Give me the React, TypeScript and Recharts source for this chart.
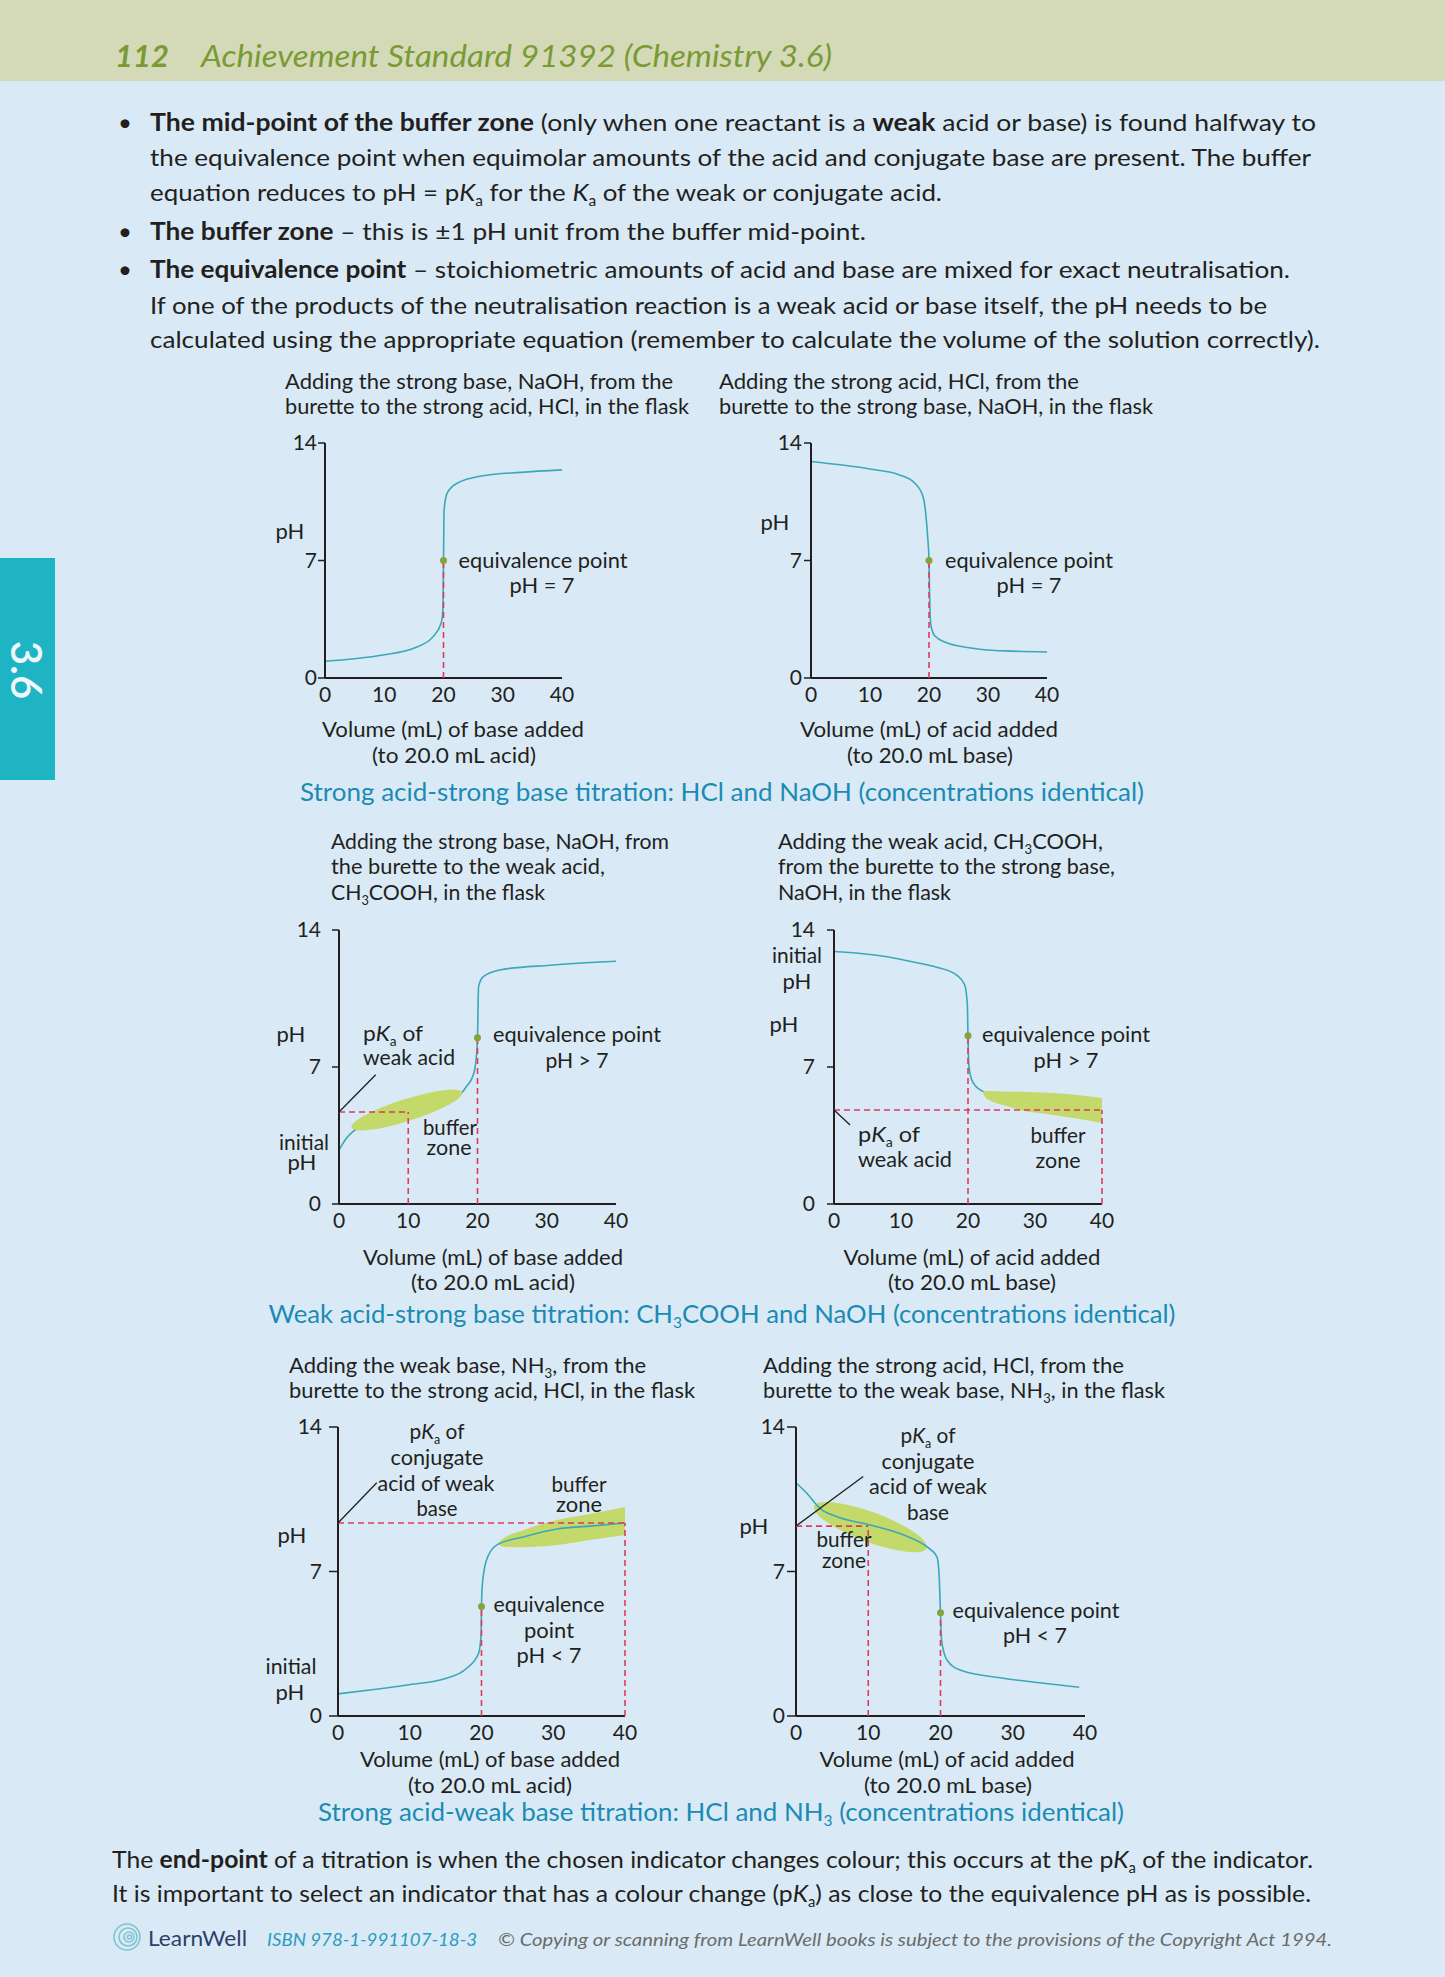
import React from 'react';
import { ComposedChart, Line, Area, XAxis, YAxis, ReferenceLine, ReferenceDot } from 'recharts';

const FONT = 'Lato, "Open Sans", sans-serif';
const INK = '#231f20';
const CURVE = '#3aa8b8';
const DASH = '#e03a5e';
const BUFFER = '#c3da6a';
const EQ_DOT = '#86a23a';
const CAPTION = '#1b8bb4';
const PAGE_BG = '#d9eaf6';
const HEADER_BG = '#d4dab8';
const HEADER_INK = '#7a9a34';
const TAB_BG = '#1fb4c4';

const volumeTicks = [0, 10, 20, 30, 40];
const phTicks = [0, 7, 14];

// 1. strong base added to strong acid
const sbIntoSaVolume = [0, 5, 9.8, 15.5, 18.2, 19.6, 19.9, 20, 20.1, 20.6, 22.3, 26.7, 33, 40];
const sbIntoSaPH = [1.0, 1.15, 1.37, 1.85, 2.45, 3.26, 4.1, 7.0, 10.0, 11.0, 11.6, 12.05, 12.25, 12.4];

// 2. strong acid added to strong base
const saIntoSbVolume = [0, 5, 10, 15, 17.6, 19, 19.5, 19.8, 20, 20.1, 20.3, 21, 23, 26, 29, 34, 40];
const saIntoSbPH = [12.9, 12.7, 12.45, 12.1, 11.6, 10.8, 9.6, 8.3, 7.0, 5.0, 3.2, 2.5, 2.1, 1.85, 1.7, 1.6, 1.55];

// 3. strong base added to weak acid
const sbIntoWaVolume = [0, 1.1, 2, 4, 7, 10, 13, 16, 17.7, 18.4, 19.4, 19.8, 20, 20.15, 20.8, 23.2, 30.5, 40];
const sbIntoWaPH = [2.75, 3.37, 3.7, 4.1, 4.45, 4.7, 4.95, 5.3, 5.67, 6.0, 6.6, 7.4, 8.5, 11.1, 11.6, 11.96, 12.2, 12.4];

// 4. weak acid added to strong base
const waIntoSbVolume = [0, 4, 7.9, 12, 15.3, 18.3, 19.5, 19.9, 20, 20.1, 20.5, 21.2, 22.3, 25, 30, 35, 40];
const waIntoSbPH = [12.9, 12.8, 12.63, 12.35, 12.1, 11.7, 11.2, 10.2, 8.6, 7.2, 6.4, 6.0, 5.74, 5.35, 5.05, 4.9, 4.8];
const waIntoSbBufferVolume = [22.2, 22.6, 23.5, 25.2, 27.8, 32.7, 36, 40];
const waIntoSbBufferLow = [5.72, 5.45, 5.25, 5.06, 4.8, 4.55, 4.38, 4.14];
const waIntoSbBufferHigh = [5.72, 5.78, 5.78, 5.75, 5.73, 5.67, 5.58, 5.42];

// 5. weak base added to strong acid
const wbIntoSaVolume = [0, 5, 9.6, 15.1, 17.9, 19.6, 19.95, 20, 20.1, 20.7, 22.1, 25.8, 30.5, 35.1, 40];
const wbIntoSaPH = [1.07, 1.28, 1.5, 1.83, 2.3, 3.04, 4.0, 5.3, 6.3, 7.56, 8.28, 8.67, 9.06, 9.2, 9.35];
const wbIntoSaBufferVolume = [22.2, 22.8, 23.5, 25.8, 30.5, 35.1, 40];
const wbIntoSaBufferLow = [8.33, 8.22, 8.19, 8.17, 8.28, 8.53, 8.77];
const wbIntoSaBufferHigh = [8.33, 8.55, 8.7, 9.0, 9.5, 9.79, 10.12];

// 6. strong acid added to weak base
const saIntoWbVolume = [0, 1.5, 3.3, 5.6, 10.3, 14.9, 18.1, 19.5, 19.8, 20, 20.15, 20.9, 22.7, 28.7, 34, 39.2];
const saIntoWbPH = [11.3, 10.79, 10.06, 9.66, 9.25, 8.77, 8.2, 7.72, 6.9, 5.0, 3.68, 2.71, 2.23, 1.83, 1.6, 1.39];

const curveOf = (xs: number[], ys: number[]) => xs.map((x, i) => ({ x, ph: ys[i] }));
const bandOf = (xs: number[], lo: number[], hi: number[]) => xs.map((x, i) => ({ x, band: [lo[i], hi[i]] }));

type Pt = [number, number];
interface Spec {
  id: string;
  plotLeft: number; plotTop: number; plotW: number; plotH: number;
  tickLen: number; yTickMargin: number;
  curve: { x: number; ph: number }[];
  band?: { x: number; band: number[] }[];
  bandOver?: boolean;
  ellipse?: { x: number; y: number; rx: number; ry: number; angle: number; under?: boolean };
  eq: Pt;
  dashed: [Pt, Pt][];
  leaders: [Pt, Pt][];
}

const specs: Spec[] = [
  {
    id: 'c1', plotLeft: 325, plotTop: 443, plotW: 237, plotH: 235, tickLen: 7, yTickMargin: 1,
    curve: curveOf(sbIntoSaVolume, sbIntoSaPH), eq: [20, 7],
    dashed: [[[20, 0], [20, 7]]], leaders: [],
  },
  {
    id: 'c2', plotLeft: 811, plotTop: 443, plotW: 236, plotH: 235, tickLen: 7, yTickMargin: 2,
    curve: curveOf(saIntoSbVolume, saIntoSbPH), eq: [20, 7],
    dashed: [[[20, 0], [20, 7]]], leaders: [],
  },
  {
    id: 'c3', plotLeft: 339, plotTop: 930, plotW: 277, plotH: 274, tickLen: 7, yTickMargin: 11,
    curve: curveOf(sbIntoWaVolume, sbIntoWaPH), eq: [20, 8.5],
    ellipse: { x: 9.8, y: 4.8, rx: 58, ry: 11, angle: -17.6 },
    dashed: [[[0, 4.7], [10, 4.7]], [[10, 0], [10, 4.7]], [[20, 0], [20, 8.5]]],
    leaders: [[[0, 4.7], [5.3, 6.6]]],
  },
  {
    id: 'c4', plotLeft: 834, plotTop: 930, plotW: 268, plotH: 274, tickLen: 7, yTickMargin: 12,
    curve: curveOf(waIntoSbVolume, waIntoSbPH), eq: [20, 8.6],
    band: bandOf(waIntoSbBufferVolume, waIntoSbBufferLow, waIntoSbBufferHigh), bandOver: true,
    dashed: [[[0, 4.8], [40, 4.8]], [[20, 0], [20, 8.6]], [[40, 0], [40, 4.8]]],
    leaders: [[[0, 4.8], [2.4, 4.04]]],
  },
  {
    id: 'c5', plotLeft: 338, plotTop: 1427, plotW: 287, plotH: 289, tickLen: 9, yTickMargin: 7,
    curve: curveOf(wbIntoSaVolume, wbIntoSaPH), eq: [20, 5.3],
    band: bandOf(wbIntoSaBufferVolume, wbIntoSaBufferLow, wbIntoSaBufferHigh),
    dashed: [[[0, 9.35], [40, 9.35]], [[20, 0], [20, 5.3]], [[40, 0], [40, 9.35]]],
    leaders: [[[0, 9.35], [5.4, 11.3]]],
  },
  {
    id: 'c6', plotLeft: 796, plotTop: 1427, plotW: 289, plotH: 289, tickLen: 9, yTickMargin: 2,
    curve: curveOf(saIntoWbVolume, saIntoWbPH), eq: [20, 5.0],
    ellipse: { x: 10.3, y: 9.15, rx: 60, ry: 15, angle: 20.4, under: true },
    dashed: [[[0, 9.2], [10, 9.2]], [[10, 0], [10, 9.2]], [[20, 0], [20, 5.0]]],
    leaders: [[[0, 9.2], [9.3, 11.6]]],
  },
];

function Titration({ s }: { s: Spec }) {
  const ML = 60, MT = 24, MR = 26, XH = 42;
  const w = ML + s.plotW + MR;
  const h = MT + s.plotH + XH;
  const ell = s.ellipse;
  const ellipseDot = ell ? (
    <ReferenceDot
      x={ell.x} y={ell.y} r={ell.rx}
      zIndex={ell.under ? 150 : 650}
      shape={(p: any) => (
        <ellipse cx={p.cx} cy={p.cy} rx={ell.rx} ry={ell.ry} fill={BUFFER}
          transform={`rotate(${ell.angle} ${p.cx} ${p.cy})`} />
      )}
    />
  ) : null;
  return (
    <div style={{ position: 'absolute', left: s.plotLeft - ML, top: s.plotTop - MT, width: w, height: h, zIndex: 1 }}>
      <ComposedChart width={w} height={h} margin={{ top: MT, right: MR, bottom: 0, left: 0 }}>
        <XAxis type="number" dataKey="x" domain={[0, 40]} ticks={volumeTicks} interval={0}
          tickLine={false} tickSize={0} tickMargin={9} height={XH}
          axisLine={{ stroke: INK, strokeWidth: 2 }}
          tick={{ fill: INK, fontSize: 21, fontFamily: FONT }} />
        <YAxis type="number" domain={[0, 14]} ticks={phTicks} interval={0} width={ML}
          tickSize={s.tickLen} tickMargin={s.yTickMargin}
          tickLine={{ stroke: INK, strokeWidth: 1.5 }}
          axisLine={{ stroke: INK, strokeWidth: 2 }}
          tick={{ fill: INK, fontSize: 21, fontFamily: FONT }} />
        {ell && ell.under ? ellipseDot : null}
        {s.band ? (
          <Area data={s.band} dataKey="band" type="monotone" stroke="none" fill={BUFFER} fillOpacity={1}
            dot={false} activeDot={false} isAnimationActive={false} zIndex={s.bandOver ? 450 : 100} />
        ) : null}
        <Line data={s.curve} dataKey="ph" type="monotone" stroke={CURVE} strokeWidth={1.6}
          dot={false} activeDot={false} isAnimationActive={false} zIndex={400} />
        {ell && !ell.under ? ellipseDot : null}
        {s.dashed.map((seg, i) => (
          <ReferenceLine key={'d' + i} segment={[{ x: seg[0][0], y: seg[0][1] }, { x: seg[1][0], y: seg[1][1] }]}
            stroke={DASH} strokeWidth={1.6} strokeDasharray="6 4" zIndex={700} />
        ))}
        {s.leaders.map((seg, i) => (
          <ReferenceLine key={'l' + i} segment={[{ x: seg[0][0], y: seg[0][1] }, { x: seg[1][0], y: seg[1][1] }]}
            stroke={INK} strokeWidth={1.3} zIndex={700} />
        ))}
        <ReferenceDot x={s.eq[0]} y={s.eq[1]} r={3.5} fill={EQ_DOT} stroke="none" zIndex={800} />
      </ComposedChart>
    </div>
  );
}

type TP = {
  x: number; y: number; w?: number; size?: number; a?: 'start' | 'middle' | 'end';
  fill?: string; italic?: boolean; bold?: boolean; children: React.ReactNode;
};
const T = ({ x, y, w, size = 22, a = 'start', fill = INK, italic = false, bold = false, children }: TP) => (
  <text x={x} y={y} fontSize={size} textAnchor={a} fill={fill} fontFamily={FONT}
    fontStyle={italic ? 'italic' : 'normal'} fontWeight={bold ? 700 : 400}
    textLength={w} lengthAdjust={w ? 'spacingAndGlyphs' : undefined}>{children}</text>
);
const B = ({ children }: { children: React.ReactNode }) => <tspan fontWeight={700}>{children}</tspan>;
const K = () => <tspan fontStyle="italic">K</tspan>;
const Sub = ({ c, d = 5 }: { c: string; d?: number }) => <tspan fontSize="60%" dy={d}>{c}</tspan>;
const Up = ({ children, d = 5 }: { children: React.ReactNode; d?: number }) => <tspan dy={-d}>{children}</tspan>;

function PageText() {
  return (
    <svg width={1445} height={1977} style={{ position: 'absolute', left: 0, top: 0, zIndex: 2, pointerEvents: 'none' }}>
      {/* header */}
      <T x={115} y={67} w={54} size={31} fill={HEADER_INK} italic bold>112</T>
      <T x={201} y={67} w={631} size={31} fill={HEADER_INK} italic>Achievement Standard 91392 (Chemistry 3.6)</T>
      {/* side tab */}
      <text transform="translate(27,670) rotate(90)" textAnchor="middle" dominantBaseline="central"
        fontSize={42} fill="#eef7fb" fontFamily={FONT} fontWeight={600}>3.6</text>

      {/* bullets */}
      <T x={118} y={131} size={24}>•</T>
      <T x={118} y={240} size={24}>•</T>
      <T x={118} y={278} size={24}>•</T>
      <T x={150} y={131} w={1166} size={24}><B>{'The mid-point of the buffer zone'}</B>{' (only when one reactant is a '}<B>weak</B>{' acid or base) is found halfway to'}</T>
      <T x={150} y={166} w={1161} size={24}>the equivalence point when equimolar amounts of the acid and conjugate base are present. The buffer</T>
      <T x={150} y={201} w={792} size={24}>{'equation reduces to pH = p'}<K /><Sub c="a" /><Up>{' for the '}</Up><K /><Sub c="a" /><Up>{' of the weak or conjugate acid.'}</Up></T>
      <T x={150} y={240} w={716} size={24}><B>{'The buffer zone'}</B>{' – this is ±1 pH unit from the buffer mid-point.'}</T>
      <T x={150} y={278} w={1140} size={24}><B>{'The equivalence point'}</B>{' – stoichiometric amounts of acid and base are mixed for exact neutralisation.'}</T>
      <T x={150} y={314} w={1117} size={24}>If one of the products of the neutralisation reaction is a weak acid or base itself, the pH needs to be</T>
      <T x={150} y={348} w={1170} size={24}>calculated using the appropriate equation (remember to calculate the volume of the solution correctly).</T>

      {/* chart 1 */}
      <T x={285} y={389} w={388}>Adding the strong base, NaOH, from the</T>
      <T x={285} y={414} w={404}>burette to the strong acid, HCl, in the flask</T>
      <T x={290} y={539} a="middle">pH</T>
      <T x={543} y={568} w={169} a="middle">equivalence point</T>
      <T x={542} y={593} w={65} a="middle">pH = 7</T>
      <T x={453} y={737} w={262} a="middle">Volume (mL) of base added</T>
      <T x={454} y={763} w={164} a="middle">(to 20.0 mL acid)</T>

      {/* chart 2 */}
      <T x={719} y={389} w={360}>Adding the strong acid, HCl, from the</T>
      <T x={719} y={414} w={434}>burette to the strong base, NaOH, in the flask</T>
      <T x={775} y={530} a="middle">pH</T>
      <T x={1029} y={568} w={168} a="middle">equivalence point</T>
      <T x={1029} y={593} w={65} a="middle">pH = 7</T>
      <T x={929} y={737} w={258} a="middle">Volume (mL) of acid added</T>
      <T x={930} y={763} w={166} a="middle">(to 20.0 mL base)</T>

      <T x={722} y={801} w={844} size={25} a="middle" fill={CAPTION}>Strong acid-strong base titration: HCl and NaOH (concentrations identical)</T>

      {/* chart 3 */}
      <T x={331} y={849} w={338}>Adding the strong base, NaOH, from</T>
      <T x={331} y={874} w={274}>the burette to the weak acid,</T>
      <T x={331} y={900} w={214}>{'CH'}<Sub c="3" /><Up>{'COOH, in the flask'}</Up></T>
      <T x={291} y={1042} a="middle">pH</T>
      <T x={363} y={1041} w={60}>{'p'}<K /><Sub c="a" /><Up>{'  of'}</Up></T>
      <T x={363} y={1065} w={92}>weak acid</T>
      <T x={577} y={1042} w={168} a="middle">equivalence point</T>
      <T x={577} y={1068} w={63} a="middle">{'pH > 7'}</T>
      <T x={450} y={1135} w={54} a="middle">buffer</T>
      <T x={449} y={1155} w={45} a="middle">zone</T>
      <T x={304} y={1150} w={50} a="middle">initial</T>
      <T x={302} y={1170} a="middle">pH</T>
      <T x={493} y={1265} w={260} a="middle">Volume (mL) of base added</T>
      <T x={493} y={1290} w={164} a="middle">(to 20.0 mL acid)</T>

      {/* chart 4 */}
      <T x={778} y={849} w={325}>{'Adding the weak acid, CH'}<Sub c="3" /><Up>{'COOH,'}</Up></T>
      <T x={778} y={874} w={337}>from the burette to the strong base,</T>
      <T x={778} y={900} w={173}>NaOH, in the flask</T>
      <T x={797} y={963} w={50} a="middle">initial</T>
      <T x={797} y={989} a="middle">pH</T>
      <T x={784} y={1032} a="middle">pH</T>
      <T x={1066} y={1042} w={168} a="middle">equivalence point</T>
      <T x={1066} y={1068} w={65} a="middle">{'pH > 7'}</T>
      <T x={858} y={1142} w={62}>{'p'}<K /><Sub c="a" /><Up>{'  of'}</Up></T>
      <T x={858} y={1167} w={94}>weak acid</T>
      <T x={1058} y={1143} w={55} a="middle">buffer</T>
      <T x={1058} y={1168} w={45} a="middle">zone</T>
      <T x={972} y={1265} w={257} a="middle">Volume (mL) of acid added</T>
      <T x={972} y={1290} w={168} a="middle">(to 20.0 mL base)</T>

      <T x={722} y={1323} w={907} size={25} a="middle" fill={CAPTION}>{'Weak acid-strong base titration: CH'}<Sub c="3" /><Up>{'COOH and NaOH (concentrations identical)'}</Up></T>

      {/* chart 5 */}
      <T x={289} y={1373} w={357}>{'Adding the weak base, NH'}<Sub c="3" /><Up>{', from the'}</Up></T>
      <T x={289} y={1398} w={406}>burette to the strong acid, HCl, in the flask</T>
      <T x={292} y={1543} a="middle">pH</T>
      <T x={291} y={1674} w={51} a="middle">initial</T>
      <T x={290} y={1700} a="middle">pH</T>
      <T x={437} y={1439} w={55} a="middle">{'p'}<K /><Sub c="a" /><Up>{' of'}</Up></T>
      <T x={437} y={1465} w={93} a="middle">conjugate</T>
      <T x={436} y={1491} w={117} a="middle">acid of weak</T>
      <T x={437} y={1516} w={41} a="middle">base</T>
      <T x={579} y={1492} w={55} a="middle">buffer</T>
      <T x={579} y={1512} w={46} a="middle">zone</T>
      <T x={549} y={1612} w={111} a="middle">equivalence</T>
      <T x={549} y={1638} w={50} a="middle">point</T>
      <T x={549} y={1663} w={65} a="middle">{'pH < 7'}</T>
      <T x={490} y={1767} w={260} a="middle">Volume (mL) of base added</T>
      <T x={490} y={1793} w={164} a="middle">(to 20.0 mL acid)</T>

      {/* chart 6 */}
      <T x={763} y={1373} w={361}>Adding the strong acid, HCl, from the</T>
      <T x={763} y={1398} w={402}>{'burette to the weak base, NH'}<Sub c="3" /><Up>{', in the flask'}</Up></T>
      <T x={754} y={1534} a="middle">pH</T>
      <T x={928} y={1443} w={55} a="middle">{'p'}<K /><Sub c="a" /><Up>{' of'}</Up></T>
      <T x={928} y={1469} w={93} a="middle">conjugate</T>
      <T x={928} y={1494} w={118} a="middle">acid of weak</T>
      <T x={928} y={1520} w={42} a="middle">base</T>
      <T x={844} y={1547} w={55} a="middle">buffer</T>
      <T x={844} y={1568} w={44} a="middle">zone</T>
      <T x={1036} y={1618} w={167} a="middle">equivalence point</T>
      <T x={1035} y={1643} w={64} a="middle">{'pH < 7'}</T>
      <T x={947} y={1767} w={255} a="middle">Volume (mL) of acid added</T>
      <T x={948} y={1793} w={168} a="middle">(to 20.0 mL base)</T>

      <T x={721} y={1821} w={806} size={25} a="middle" fill={CAPTION}>{'Strong acid-weak base titration: HCl and NH'}<Sub c="3" /><Up>{' (concentrations identical)'}</Up></T>

      {/* closing paragraph */}
      <T x={112} y={1868} w={1201} size={24}>{'The '}<B>end-point</B>{' of a titration is when the chosen indicator changes colour; this occurs at the p'}<K /><Sub c="a" /><Up>{' of the indicator.'}</Up></T>
      <T x={112} y={1902} w={1199} size={24}>{'It is important to select an indicator that has a colour change (p'}<K /><Sub c="a" /><Up>{') as close to the equivalence pH as is possible.'}</Up></T>

      {/* footer */}
      <g fill="none" stroke="#7cc6d0" strokeWidth={1.6}>
        <circle cx={127} cy={1937} r={13} />
        <circle cx={128} cy={1937} r={9} />
        <circle cx={129} cy={1937} r={5} />
        <circle cx={129.5} cy={1937} r={2} />
      </g>
      <T x={148} y={1946} w={99} size={22} fill="#2d3f6b">LearnWell</T>
      <T x={267} y={1946} w={210} size={17} italic fill="#2a9cc0">ISBN 978-1-991107-18-3</T>
      <T x={498} y={1946} w={834} size={17} italic fill="#6b6b6b">© Copying or scanning from LearnWell books is subject to the provisions of the Copyright Act 1994.</T>
    </svg>
  );
}

export default function App() {
  return (
    <div style={{ position: 'absolute', left: 0, top: 0, width: 1445, height: 1977, background: PAGE_BG, overflow: 'hidden', fontFamily: FONT }}>
      <div style={{ position: 'absolute', left: 0, top: 0, width: 1445, height: 81, background: HEADER_BG }} />
      <div style={{ position: 'absolute', left: 0, top: 558, width: 55, height: 222, background: TAB_BG }} />
      {specs.map((s) => <Titration key={s.id} s={s} />)}
      <PageText />
    </div>
  );
}
